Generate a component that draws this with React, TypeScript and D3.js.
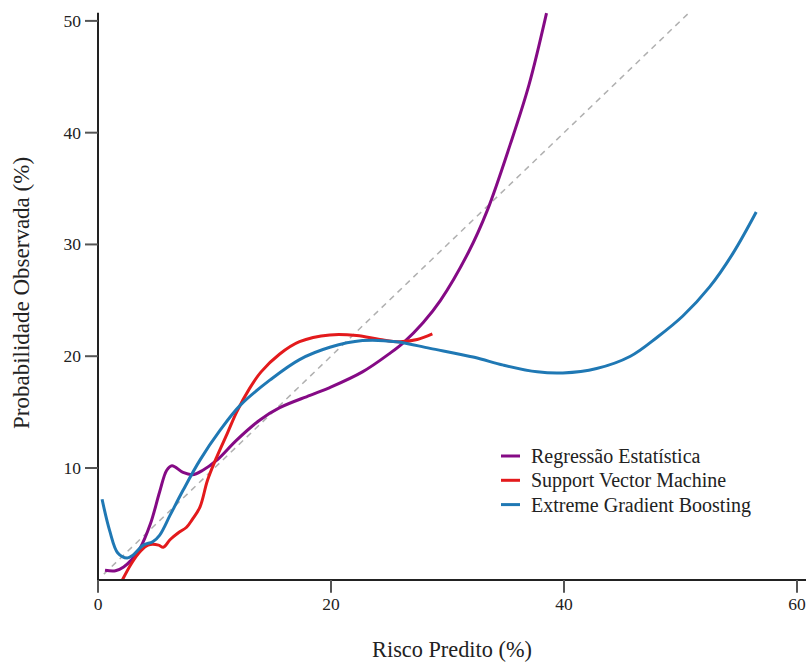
import React from "react";
import * as d3 from "d3";

const xTicks = [0, 20, 40, 60];
const yTicks = [10, 20, 30, 40, 50];

const seriesNames = ["Regressão Estatística", "Support Vector Machine", "Extreme Gradient Boosting"];
const seriesColors = ["#850a85", "#e31a1c", "#1f78b4"];

const regX = [0.6, 1.5, 2.2, 2.9, 3.6, 4.5, 5.3, 5.9, 6.35, 7.3, 8.1, 9.0, 10.2, 11.9, 13.9, 15.6, 18.2, 19.9, 22.7, 25.1, 26.2, 27.9, 29.4, 31.8, 33.4, 35.4, 37.0, 38.5];
const regY = [0.85, 0.8, 1.15, 1.8, 2.8, 5.0, 7.9, 9.8, 10.2, 9.6, 9.4, 9.8, 10.7, 12.5, 14.3, 15.4, 16.5, 17.2, 18.6, 20.3, 21.2, 23.0, 25.0, 29.3, 33.0, 39.0, 44.3, 50.7];

const svmX = [2.1, 2.9, 3.6, 4.3, 5.2, 5.6, 6.2, 6.9, 7.6, 8.1, 8.75, 9.4, 10.2, 11.1, 11.9, 13.0, 14.0, 15.6, 17.3, 19.9, 22.2, 24.2, 25.9, 27.4, 28.7];
const svmY = [0.0, 1.5, 2.5, 3.1, 3.1, 2.9, 3.6, 4.2, 4.7, 5.4, 6.5, 8.9, 11.0, 13.1, 15.0, 17.1, 18.6, 20.2, 21.3, 21.9, 21.85, 21.5, 21.3, 21.5, 22.0];

const xgbX = [0.35, 1.0, 1.7, 2.5, 3.0, 3.9, 4.7, 5.3, 6.2, 7.3, 8.75, 10.5, 12.2, 14.8, 17.3, 19.9, 22.7, 25.6, 28.5, 32.3, 34.8, 37.7, 39.9, 42.8, 45.7, 48.0, 50.2, 52.5, 54.5, 56.5];
const xgbY = [7.2, 4.4, 2.4, 1.95, 2.2, 3.1, 3.4, 4.0, 5.8, 8.0, 10.7, 13.4, 15.6, 17.9, 19.7, 20.8, 21.4, 21.3, 20.7, 19.9, 19.2, 18.6, 18.5, 18.9, 20.0, 21.7, 23.6, 26.2, 29.2, 32.9];

const refLine = [0.5, 50.7];

const W = 811, H = 668;
const left = 98, right = 806, top = 12.7, bottom = 580;

export default function App() {
  const x = d3.scaleLinear().domain([0, 60]).range([left, 797]);
  const y = d3.scaleLinear().domain([0, 50]).range([579.75, 20.9]);
  const line = d3
    .line<[number, number]>()
    .x((d) => x(d[0]))
    .y((d) => y(d[1]))
    .curve(d3.curveCatmullRom.alpha(0.5));
  const series = [
    { xs: regX, ys: regY },
    { xs: svmX, ys: svmY },
    { xs: xgbX, ys: xgbY },
  ];
  const font = "'Liberation Serif', 'DejaVu Serif', serif";
  return (
    <svg width={W} height={H} style={{ position: "absolute", left: 0, top: 0, background: "#fff" }} fontFamily={font}>
      <line
        x1={x(refLine[0])}
        y1={y(refLine[0])}
        x2={x(refLine[1])}
        y2={y(refLine[1])}
        stroke="#b0b0b0"
        strokeWidth={1.5}
        strokeDasharray="6,5"
      />
      {series.map((s, i) => (
        <path
          key={i}
          d={line(s.xs.map((v, j) => [v, s.ys[j]] as [number, number])) || ""}
          fill="none"
          stroke={seriesColors[i]}
          strokeWidth={3}
          strokeLinejoin="round"
          strokeLinecap="butt"
        />
      ))}
      <line x1={left} y1={top} x2={left} y2={bottom + 1} stroke="#222" strokeWidth={2} />
      <line x1={left - 1} y1={bottom} x2={right} y2={bottom} stroke="#222" strokeWidth={2} />
      {yTicks.map((t) => (
        <g key={"y" + t}>
          <line x1={85} x2={left} y1={y(t)} y2={y(t)} stroke="#555" strokeWidth={2} />
          <text x={81} y={y(t)} textAnchor="end" dominantBaseline="central" fontSize={17.5} fill="#222">
            {t}
          </text>
        </g>
      ))}
      {xTicks.map((t) => (
        <g key={"x" + t}>
          <line x1={x(t)} x2={x(t)} y1={bottom} y2={592.7} stroke="#555" strokeWidth={2} />
          <text x={x(t)} y={604} textAnchor="middle" dominantBaseline="central" fontSize={17.5} fill="#222">
            {t}
          </text>
        </g>
      ))}
      <text x={452} y={657} textAnchor="middle" fontSize={22.3} fill="#222">
        Risco Predito (%)
      </text>
      <text transform={`translate(29,293) rotate(-90)`} textAnchor="middle" fontSize={23} fill="#222">
        Probabilidade Observada (%)
      </text>
      {seriesNames.map((n, i) => (
        <g key={n}>
          <line x1={501} x2={520} y1={456 + i * 24.3} y2={456 + i * 24.3} stroke={seriesColors[i]} strokeWidth={3} />
          <text x={531} y={456 + i * 24.3} dominantBaseline="central" fontSize={20} fill="#222">
            {n}
          </text>
        </g>
      ))}
    </svg>
  );
}
